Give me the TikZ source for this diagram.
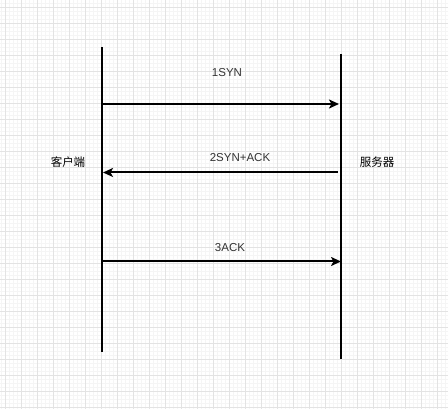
\documentclass[tikz,border=0pt]{standalone}
\usepackage{fontspec}
\setmainfont{Liberation Sans}
\newfontfamily\cjk{Noto Sans CJK SC}
\usetikzlibrary{arrows.meta}

\begin{document}
\begin{tikzpicture}[x=1pt, y=-1pt,
		gridminor/.style={draw=black!4, line width=0.5pt},
		gridmajor/.style={draw=black!11, line width=0.8pt},
		lifeline/.style={draw=black, line width=2pt},
		msg/.style={draw=black, line width=2pt, -{Stealth[length=10pt, width=9pt, inset=2.5pt]}},
		every node/.style={font=\fontsize{11.5}{13}\selectfont, inner sep=1pt}]
				\useasboundingbox (0,0) rectangle (448,409);
				\fill[white] (0,0) rectangle (448,409);
				
				% grid
				\foreach \gx in {1,5,...,448} \draw[gridminor] (\gx,0) -- (\gx,409);
				\foreach \gy in {3.7,7.7,...,409} \draw[gridminor] (0,\gy) -- (448,\gy);
				\foreach \gx in {5,21,...,448} \draw[gridmajor] (\gx,0) -- (\gx,409);
				\foreach \gy in {7.7,23.7,...,409} \draw[gridmajor] (0,\gy) -- (448,\gy);
				
				\node (client) at (68,162){\cjk 客户端};
				\node (server) at (377,162){\cjk 服务器};
				
				\coordinate (ctop) at (102,47);
				\coordinate (cbot) at (102,352);
				\coordinate (stop) at (341,54);
				\coordinate (sbot) at (341,359);
				
				\coordinate (c1) at (101,104);
				\coordinate (s1) at (339,104);
				\coordinate (s2) at (338,172.5);
				\coordinate (c2) at (103,172.5);
				\coordinate (c3) at (101,261.5);
				\coordinate (s3) at (341,261.5);
				
				\node[text=black!80] (syn) at (227,73){1SYN};
				\node[text=black!80] (synack) at (240,158){2SYN+ACK};
				\node[text=black!80] (ack) at (230,248){3ACK};
				
				\path[lifeline] (ctop) -- (cbot);
				\path[lifeline] (stop) -- (sbot);
				\path[msg] (c1) -- (s1);
				\path[msg] (s2) -- (c2);
				\path[msg] (c3) -- (s3);
\end{tikzpicture}
\end{document}
